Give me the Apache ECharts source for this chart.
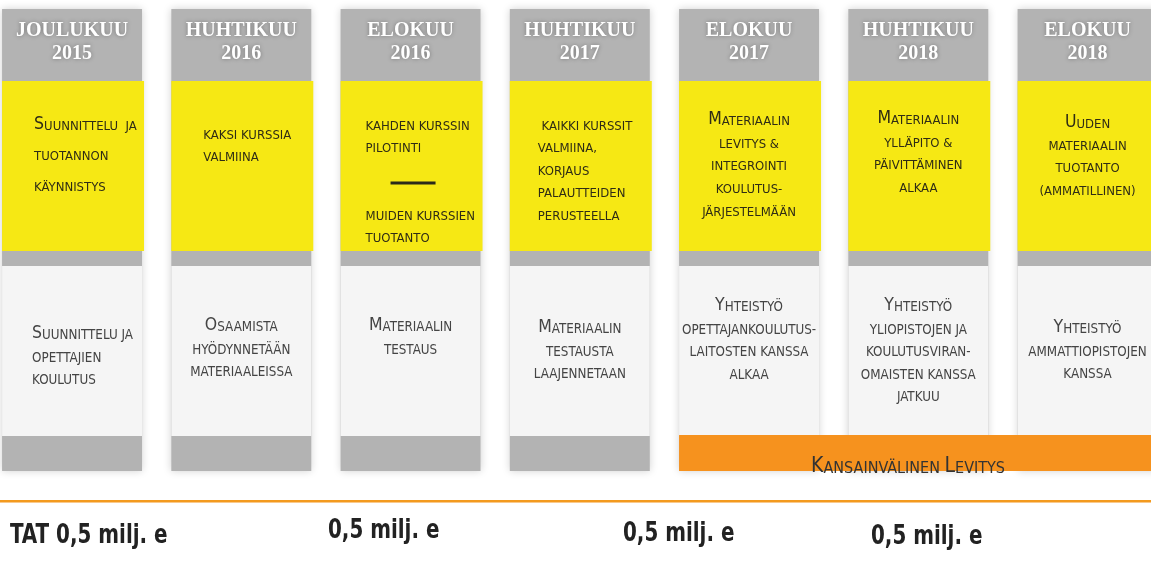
<!DOCTYPE html>
<html><head><meta charset="utf-8">
<script src="https://cdn.jsdelivr.net/npm/echarts@6/dist/echarts.min.js"></script>
<style>html,body{margin:0;padding:0;background:#fff}#c{width:1151px;height:562px}</style>
</head><body><div id="c"></div>
<script>
// ---------- DATA ----------
const months = ['Joulukuu','Huhtikuu','Elokuu','Huhtikuu','Elokuu','Huhtikuu','Elokuu'];
const years = ['2015','2016','2016','2017','2017','2018','2018'];
const plans = [
  ['Suunnittelu  ja','tuotannon','käynnistys'],
  ['kaksi kurssia','valmiina'],
  ['kahden kurssin','pilotinti','—','muiden kurssien','tuotanto'],
  [' kaikki kurssit','valmiina,','korjaus','palautteiden','perusteella'],
  ['Materiaalin','levitys &','integrointi','koulutus-','järjestelmään'],
  ['Materiaalin','ylläpito &','päivittäminen','alkaa'],
  ['Uuden','materiaalin','tuotanto','(ammatillinen)']
];
const cooperation = [
  ['Suunnittelu ja','opettajien','koulutus'],
  ['Osaamista','hyödynnetään','materiaaleissa'],
  ['Materiaalin','testaus'],
  ['Materiaalin','testausta','laajennetaan'],
  ['Yhteistyö','opettajankoulutus-','laitosten kanssa','alkaa'],
  ['Yhteistyö','yliopistojen ja','koulutusviran-','omaisten kanssa','jatkuu'],
  ['Yhteistyö','ammattiopistojen','kanssa']
];
const internationalFrom = [4];
const internationalLabel = 'Kansainvälinen Levitys';
const fundingLabels = ['TAT 0,5 milj. e','0,5 milj. e','0,5 milj. e','0,5 milj. e'];

// ---------- LAYOUT / STYLE ----------
const L = {
  headerTop: 9, headerMid: 42.5, planTop: 81, planBottom: 251,
  coopTop: 266, coopBottom: 436, colBottom: 471, colWidth: 0.827,
  xMin: -0.4257, xMax: 6.3749,
  planFirst: [124,133,124,124,119,118,122],
  planStep: [30.5,22,22,22.5,22.8,22.7,22.3],
  planAlign: ['left','left','left','left','center','center','center'],
  planIndent: [32,32,25,28,0,0,0],
  coopFirst: [333,325,325,327,305,305,327],
  coopStep: 22.6,
  coopAlign: ['left','center','center','center','center','center','center'],
  coopIndent: [30,0,0,0,0,0,0],
  fundingX: [10,328,623,871],
  fundingY: [536,531,534,537],
  lineY: 500
};
const GREY = '#b3b3b3', YELLOW = '#f6e814', LIGHT = '#f5f5f5', ORANGE = '#f6921e';
const NARROW = "'Liberation Sans Narrow','DejaVu Sans Condensed',sans-serif";
const SERIF = "'Liberation Serif','DejaVu Serif',serif";

function smallCaps(s){
  let out = '', cur = null, buf = '';
  for (const ch of s){
    const t = (ch !== ch.toLowerCase()) ? 'B' : 's';
    if (t !== cur){ if (buf) out += '{' + cur + '|' + buf + '}'; buf = ''; cur = t; }
    buf += ch.toUpperCase();
  }
  if (buf) out += '{' + cur + '|' + buf + '}';
  return out;
}
function scText(str, x, y, align, color, big, small){
  return {
    type: 'text', x: x, y: y - 2,
    style: {
      text: smallCaps(str), align: align, verticalAlign: 'middle',
      rich: {
        B: {fontSize: big, fontFamily: NARROW, fill: color, verticalAlign: 'bottom', lineHeight: 22},
        s: {fontSize: small, fontFamily: NARROW, fill: color, verticalAlign: 'bottom', lineHeight: 22}
      }
    }
  };
}

const chart = echarts.init(document.getElementById('c'));
chart.setOption({
  backgroundColor: '#fff',
  animation: false,
  grid: {left: 0, right: 0, top: 0, bottom: 0},
  xAxis: {type: 'value', min: L.xMin, max: L.xMax, show: false},
  yAxis: {type: 'value', min: 0, max: 1, show: false},
  graphic: [
    {type: 'rect', shape: {x: 0, y: L.lineY, width: 1151, height: 2}, style: {fill: '#f39a1e'}},
    {type: 'rect', shape: {x: 0, y: L.lineY + 2, width: 1151, height: 1}, style: {fill: '#f9c98c'}}
  ].concat(fundingLabels.map((t, k) => ({
    type: 'text', x: L.fundingX[k], y: L.fundingY[k], scaleX: 0.82,
    style: {text: t, fontFamily: NARROW, fontWeight: 'bold', fontSize: 27, fill: '#222', verticalAlign: 'middle'}
  }))),
  series: [
    {
      type: 'custom', clip: false,
      name: 'Aikajana',
      data: months.map((m, i) => [i, 0]),
      encode: {x: 0, y: 1},
      renderItem: function(params, api){
        const i = api.value(0);
        const cx = api.coord([i, 0])[0];
        const w = api.size([1, 0])[0] * L.colWidth;
        const x0 = cx - w / 2;
        const ch = [];
        ch.push({type: 'rect', shape: {x: x0, y: L.headerTop, width: w, height: L.colBottom - L.headerTop},
          style: {fill: GREY, shadowBlur: 8, shadowColor: 'rgba(0,0,0,0.18)'}});
        ch.push({type: 'rect', shape: {x: x0, y: L.planTop, width: w + 2, height: L.planBottom - L.planTop}, style: {fill: YELLOW}});
        ch.push({type: 'rect', shape: {x: x0, y: L.coopTop, width: w, height: L.coopBottom - L.coopTop}, style: {fill: LIGHT}});
        ch.push({type: 'text', x: cx, y: L.headerMid, style: {
          text: months[i].toUpperCase() + '\n' + years[i], fill: '#fff', fontFamily: SERIF, fontWeight: 'bold',
          fontSize: 20, lineHeight: 23, align: 'center', verticalAlign: 'middle',
          textShadowBlur: 4, textShadowColor: 'rgba(0,0,0,0.35)'}});
        let y = L.planFirst[i];
        const pa = L.planAlign[i];
        const px = pa === 'left' ? x0 + L.planIndent[i] : cx;
        plans[i].forEach(line => {
          if (line === '—'){
            const dy = y - L.planStep[i] + 37;
            ch.push({type: 'rect', shape: {x: cx - 20, y: dy - 1.5, width: 45, height: 3}, style: {fill: '#2b2a1a'}});
            y = dy + 31;
          } else {
            ch.push(scText(line, px, y, pa, '#2f2c15', 17.5, 13));
            y += L.planStep[i];
          }
        });
        let y2 = L.coopFirst[i];
        const ca = L.coopAlign[i];
        const cxx = ca === 'left' ? x0 + L.coopIndent[i] : cx;
        cooperation[i].forEach(line => {
          ch.push(scText(line, cxx, y2, ca, '#444', 17.5, 13.3));
          y2 += L.coopStep;
        });
        return {type: 'group', children: ch};
      }
    },
    {
      type: 'custom', clip: false, z: 5,
      name: 'Kansainvälinen',
      data: internationalFrom.map(i => [i, 0]),
      encode: {x: 0, y: 1},
      renderItem: function(params, api){
        const i = api.value(0);
        const cx = api.coord([i, 0])[0];
        const w = api.size([1, 0])[0] * L.colWidth;
        const x0 = cx - w / 2;
        const W = api.getWidth();
        return {type: 'group', children: [
          {type: 'rect', shape: {x: x0, y: L.coopBottom - 1, width: W - x0, height: L.colBottom - L.coopBottom + 1}, style: {fill: ORANGE}},
          scText(internationalLabel, (x0 + W) / 2 - 7, 468, 'center', '#333', 21, 16)
        ]};
      }
    }
  ]
});
</script>
</body></html>
